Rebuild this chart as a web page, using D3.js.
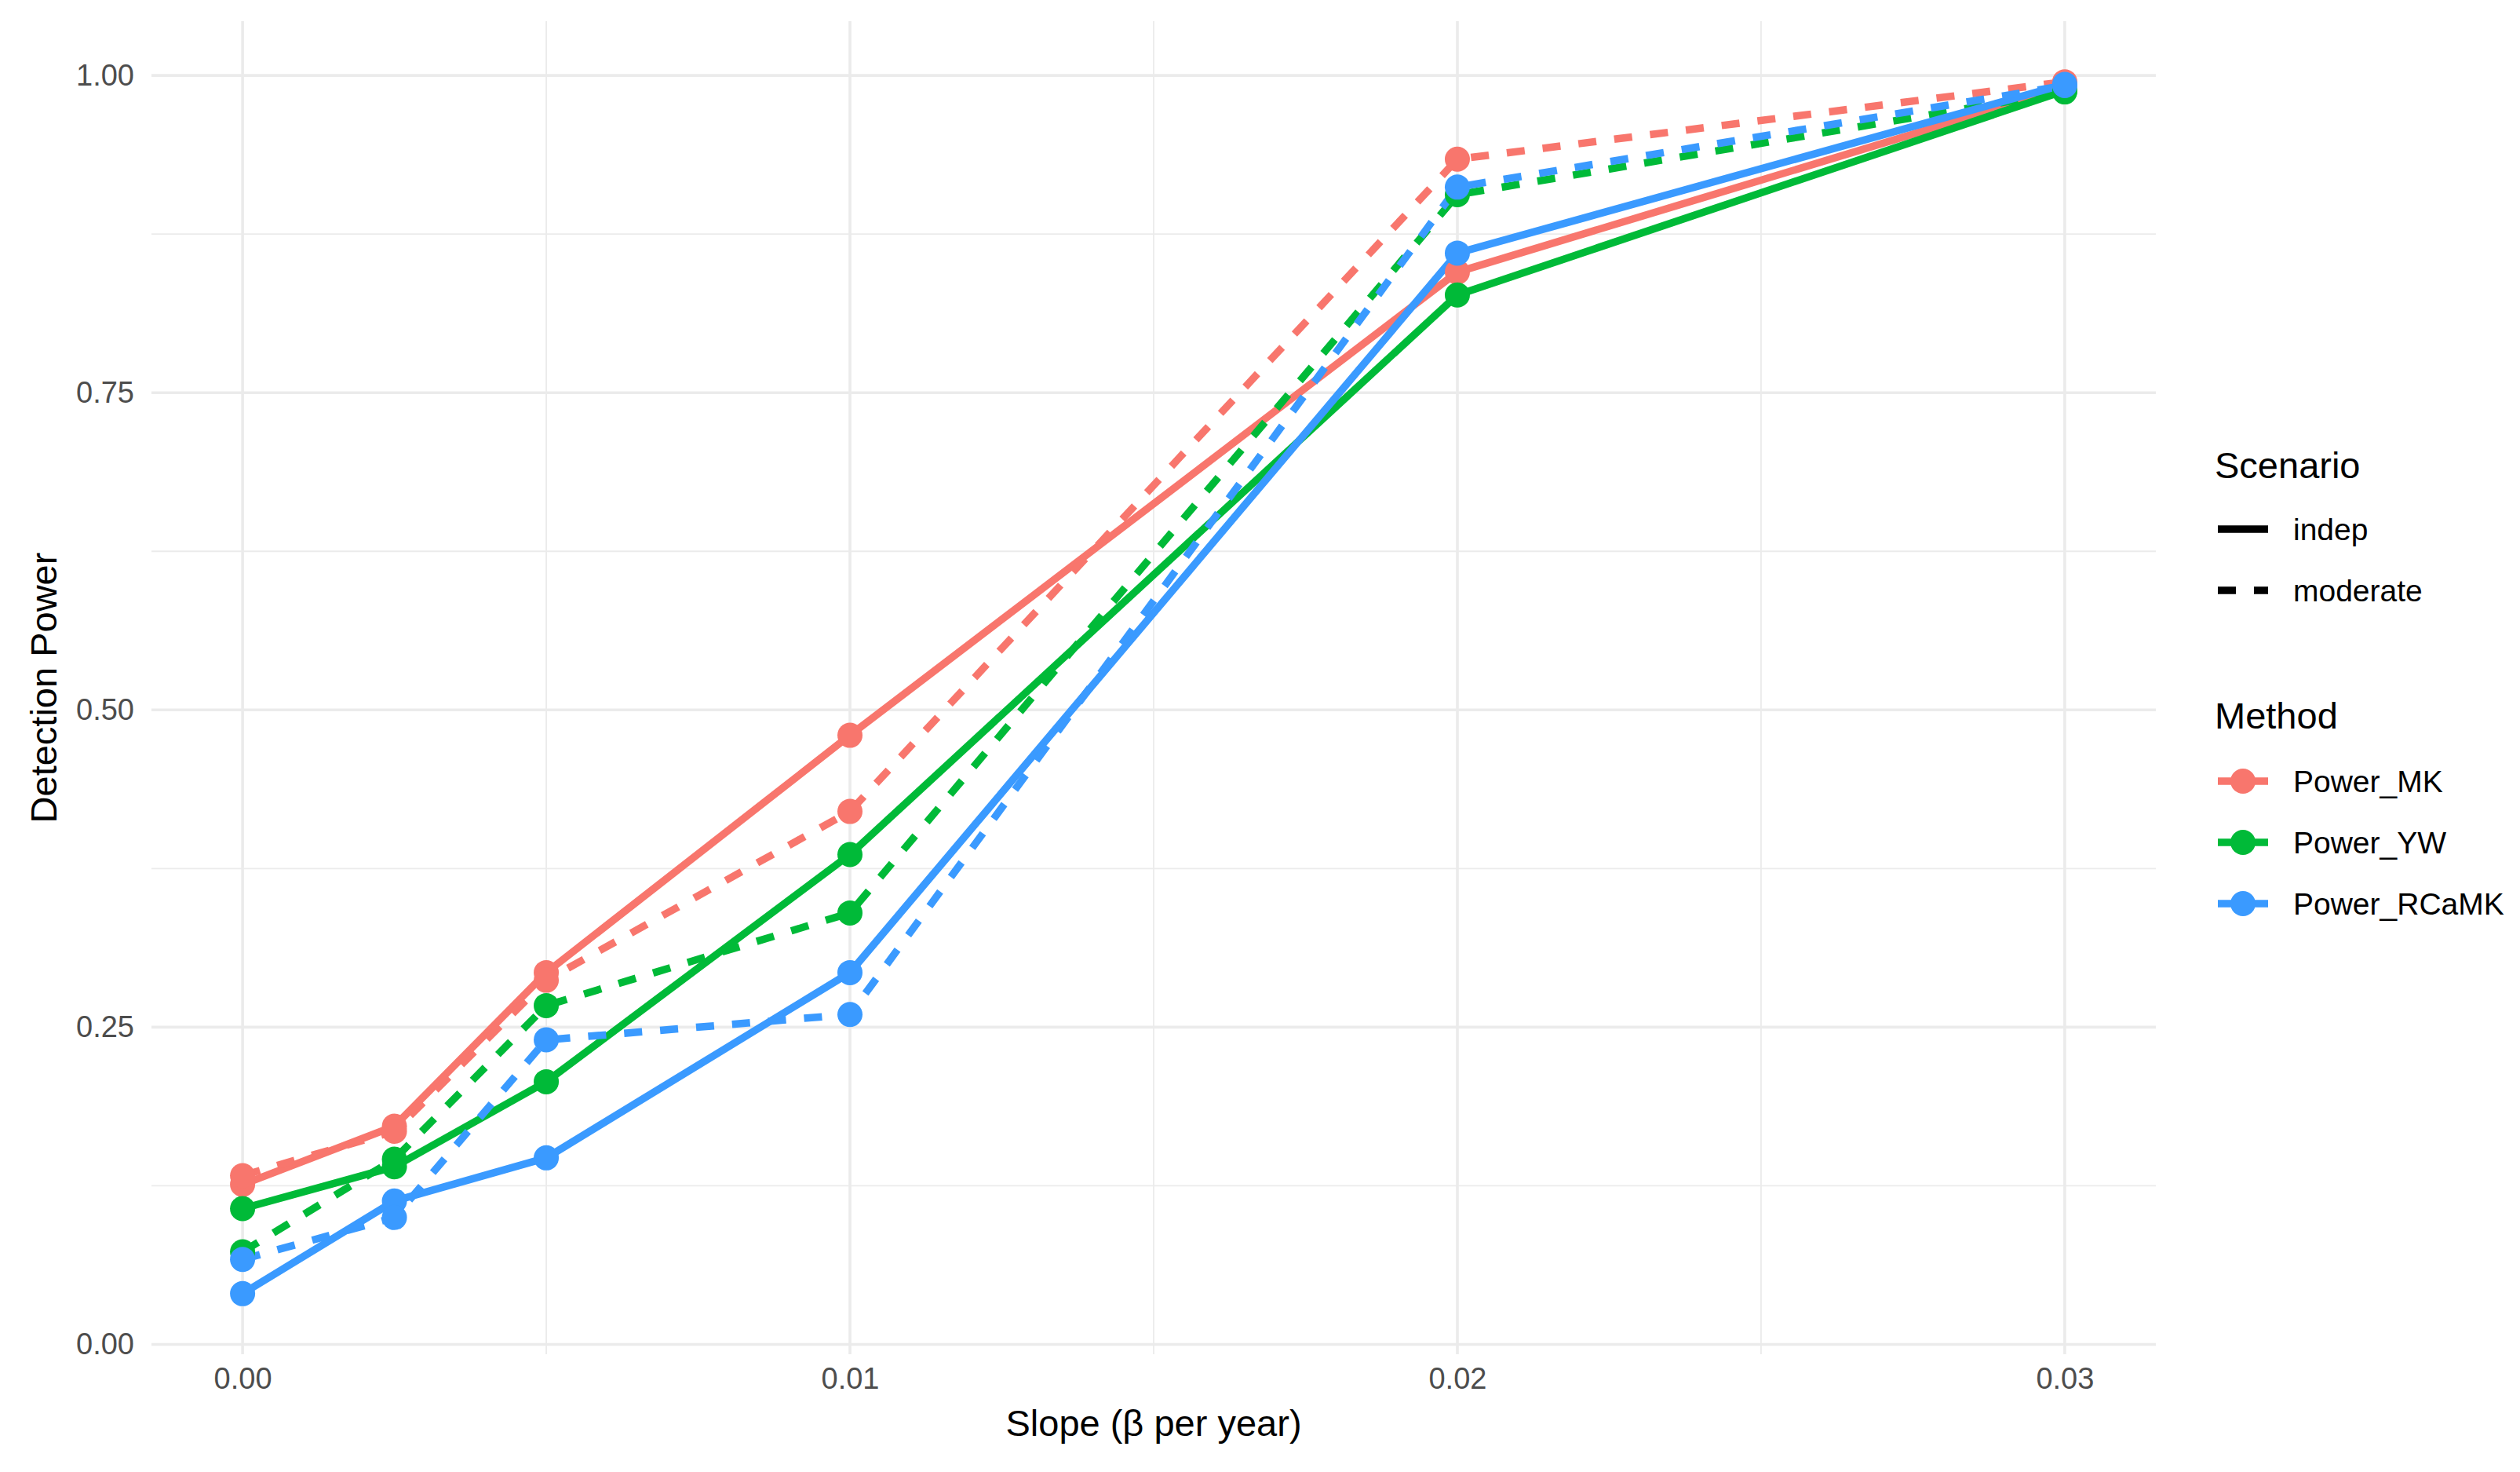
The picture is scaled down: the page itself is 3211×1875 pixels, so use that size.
<!DOCTYPE html>
<html>
<head>
<meta charset="utf-8">
<script src="https://cdn.jsdelivr.net/npm/d3@7"></script>
<style>
  html, body { margin: 0; padding: 0; background: #ffffff; }
  svg { display: block; font-family: "Liberation Sans", Arial, Helvetica, sans-serif; }
</style>
</head>
<body>
<svg id="chart" width="3211" height="1875"></svg>
<script>
// ---- data ----
const slopes = [0, 0.0025, 0.005, 0.01, 0.02, 0.03];
const methods = ["Power_MK", "Power_YW", "Power_RCaMK"];
const scenarios = ["indep", "moderate"];
const mkIndep     = [0.126, 0.172, 0.293, 0.480, 0.845, 0.990];
const mkModerate  = [0.133, 0.168, 0.287, 0.420, 0.934, 0.995];
const ywIndep     = [0.107, 0.140, 0.207, 0.386, 0.827, 0.988];
const ywModerate  = [0.073, 0.146, 0.267, 0.340, 0.906, 0.987];
const rcIndep     = [0.040, 0.113, 0.147, 0.293, 0.860, 0.993];
const rcModerate  = [0.067, 0.100, 0.240, 0.260, 0.912, 0.992];
const xTicks = [0, 0.01, 0.02, 0.03];
const xMinorTicks = [0.005, 0.015, 0.025];
const yTicks = [0, 0.25, 0.5, 0.75, 1.0];
const yMinorTicks = [0.125, 0.375, 0.625, 0.875];

const seriesValues = {
  "Power_MK":    { indep: mkIndep, moderate: mkModerate },
  "Power_YW":    { indep: ywIndep, moderate: ywModerate },
  "Power_RCaMK": { indep: rcIndep, moderate: rcModerate }
};

const colors = { "Power_MK": "#F8766D", "Power_YW": "#00BA38", "Power_RCaMK": "#3A9AFF" };
const dashes = { indep: null, moderate: "23,23" };

// ---- layout ----
const panel = { left: 193, right: 2747, top: 27, bottom: 1725 };
const lineW = 9.5;
const ptR = 16;

function expand(ext, f) { const d = ext[1] - ext[0]; return [ext[0] - d * f, ext[1] + d * f]; }

const allY = [];
methods.forEach(m => scenarios.forEach(s => allY.push(...seriesValues[m][s])));

const x = d3.scaleLinear().domain(expand(d3.extent(slopes), 0.05)).range([panel.left, panel.right]);
const y = d3.scaleLinear().domain(expand(d3.extent(allY), 0.05)).range([panel.bottom, panel.top]);

const svg = d3.select("#chart");
svg.append("rect").attr("width", 3211).attr("height", 1875).attr("fill", "#fff");

const grid = svg.append("g");
const gridColor = "#EBEBEB";
// minor grid
grid.selectAll(".ym").data(yMinorTicks).enter().append("line")
  .attr("x1", panel.left).attr("x2", panel.right)
  .attr("y1", d => y(d)).attr("y2", d => y(d))
  .attr("stroke", gridColor).attr("stroke-width", 1.8);
grid.selectAll(".xm").data(xMinorTicks).enter().append("line")
  .attr("y1", panel.top).attr("y2", panel.bottom)
  .attr("x1", d => x(d)).attr("x2", d => x(d))
  .attr("stroke", gridColor).attr("stroke-width", 1.8);
// major grid
grid.selectAll(".yM").data(yTicks).enter().append("line")
  .attr("x1", panel.left).attr("x2", panel.right)
  .attr("y1", d => y(d)).attr("y2", d => y(d))
  .attr("stroke", gridColor).attr("stroke-width", 3.6);
grid.selectAll(".xM").data(xTicks).enter().append("line")
  .attr("y1", panel.top).attr("y2", panel.bottom)
  .attr("x1", d => x(d)).attr("x2", d => x(d))
  .attr("stroke", gridColor).attr("stroke-width", 3.6);

// axes (labels only, ggplot theme_minimal style)
const xAxis = svg.append("g").attr("transform", `translate(0,${panel.bottom})`)
  .call(d3.axisBottom(x).tickValues(xTicks).tickFormat(d3.format(".2f")).tickSize(0).tickPadding(17));
xAxis.select(".domain").remove();
xAxis.selectAll("text").attr("font-size", 38).attr("fill", "#4D4D4D")
  .attr("font-family", "'Liberation Sans', Arial, sans-serif");

const yAxis = svg.append("g").attr("transform", `translate(${panel.left},0)`)
  .call(d3.axisLeft(y).tickValues(yTicks).tickFormat(d3.format(".2f")).tickSize(0).tickPadding(22));
yAxis.select(".domain").remove();
yAxis.selectAll("text").attr("font-size", 38).attr("fill", "#4D4D4D")
  .attr("font-family", "'Liberation Sans', Arial, sans-serif");

// lines
const lineGen = d3.line().x(d => x(d[0])).y(d => y(d[1]));
const linesG = svg.append("g");
methods.forEach(m => {
  scenarios.forEach(s => {
    const pts = slopes.map((sl, i) => [sl, seriesValues[m][s][i]]);
    linesG.append("path").datum(pts)
      .attr("d", lineGen)
      .attr("fill", "none")
      .attr("stroke", colors[m])
      .attr("stroke-width", lineW)
      .attr("stroke-dasharray", dashes[s])
      .attr("stroke-linejoin", "round");
  });
});
// points
const ptsG = svg.append("g");
methods.forEach(m => {
  scenarios.forEach(s => {
    const pts = slopes.map((sl, i) => [sl, seriesValues[m][s][i]]);
    ptsG.selectAll(null).data(pts).enter().append("circle")
      .attr("cx", d => x(d[0])).attr("cy", d => y(d[1]))
      .attr("r", ptR).attr("fill", colors[m]);
  });
});

// axis titles
svg.append("text").attr("x", (panel.left + panel.right) / 2).attr("y", 1829)
  .attr("text-anchor", "middle").attr("font-size", 47).attr("fill", "#000")
  .text("Slope (β per year)");
svg.append("text").attr("transform", `translate(72,${(panel.top + panel.bottom) / 2}) rotate(-90)`)
  .attr("text-anchor", "middle").attr("font-size", 47).attr("fill", "#000")
  .text("Detection Power");

// legends
const lg = svg.append("g");
const keyX1 = 2826, keyX2 = 2890, labX = 2922;
lg.append("text").attr("x", 2822).attr("y", 609).attr("font-size", 47).text("Scenario");
const scenY = [674, 752];
scenarios.forEach((s, i) => {
  lg.append("line").attr("x1", keyX1).attr("x2", keyX2).attr("y1", scenY[i]).attr("y2", scenY[i])
    .attr("stroke", "#000").attr("stroke-width", lineW).attr("stroke-dasharray", dashes[s]);
  lg.append("text").attr("x", labX).attr("y", scenY[i]).attr("dy", "0.36em")
    .attr("font-size", 39).text(s);
});
lg.append("text").attr("x", 2822).attr("y", 928).attr("font-size", 47).text("Method");
const methY = [995, 1073, 1151];
methods.forEach((m, i) => {
  lg.append("line").attr("x1", keyX1).attr("x2", keyX2).attr("y1", methY[i]).attr("y2", methY[i])
    .attr("stroke", colors[m]).attr("stroke-width", lineW);
  lg.append("circle").attr("cx", (keyX1 + keyX2) / 2).attr("cy", methY[i]).attr("r", ptR).attr("fill", colors[m]);
  lg.append("text").attr("x", labX).attr("y", methY[i]).attr("dy", "0.36em")
    .attr("font-size", 39).text(m);
});
</script>
</body>
</html>
